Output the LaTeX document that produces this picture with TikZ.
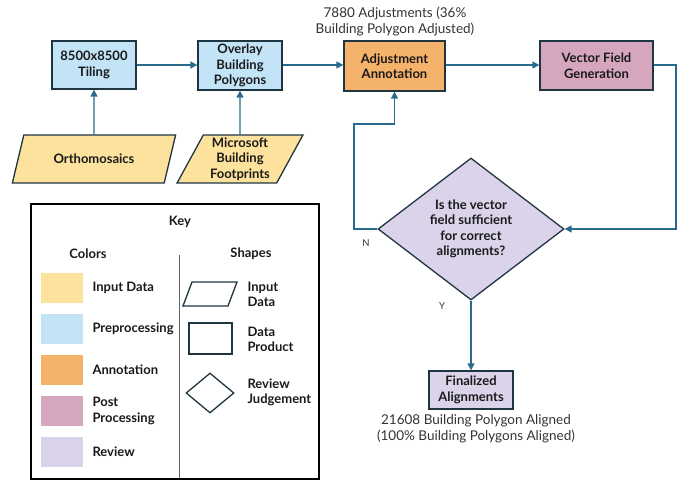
\documentclass[tikz,border=0pt]{standalone}
\usepackage{fontspec}
\setmainfont{Lato}
\usetikzlibrary{shapes.geometric,arrows.meta}
\definecolor{cyellow}{HTML}{FCE29C}
\definecolor{cblue}{HTML}{C3E4F6}
\definecolor{corange}{HTML}{F5B26B}
\definecolor{cpink}{HTML}{D6A6BE}
\definecolor{clav}{HTML}{DAD3E9}
\definecolor{cborder}{HTML}{1F3642}
\definecolor{carrow}{HTML}{2A6A8C}
\definecolor{ctext}{HTML}{1A1A1A}
\definecolor{cnote}{HTML}{333333}
\tikzset{
  box/.style={draw=cborder, line width=1.3pt, align=center, text=ctext,
    font=\bfseries\fontsize{13}{15.5}\selectfont, inner sep=0pt},
  para/.style={box, trapezium, trapezium stretches=true},
  arr/.style={draw=carrow, line width=1.3pt, -{Triangle[length=7pt,width=7pt]}},
  note/.style={align=center, text=cnote, font=\fontsize{13.5}{15.5}\selectfont},
  keytxt/.style={align=left, anchor=west, text=ctext, font=\bfseries\fontsize{13}{15.5}\selectfont},
  swatch/.style={minimum width=42pt, minimum height=30pt, inner sep=0pt},
  yn/.style={text=cnote, font=\fontsize{9.5}{11}\selectfont}
}
\begin{document}
\begin{tikzpicture}[x=1pt,y=-1pt]
\useasboundingbox (0,0) rectangle (682,481);
% main flow
\node[box, fill=cblue, minimum width=84pt, minimum height=48pt] (tile) at (94,65) {8500x8500\\Tiling};
\node[box, fill=cblue, minimum width=84pt, minimum height=49pt] (over) at (240,65.5) {Overlay\\Building\\Polygons};
\node[box, fill=corange, minimum width=101pt, minimum height=50pt] (adj) at (394.5,66) {Adjustment\\Annotation};
\node[box, fill=cpink, minimum width=113pt, minimum height=49pt] (vec) at (596.5,65.5) {Vector Field\\Generation};
\node[para, fill=cyellow, trapezium left angle=56, trapezium right angle=124, minimum width=164pt, minimum height=48pt] (ortho) at (94,159) {Orthomosaics};
\node[para, fill=cyellow, trapezium left angle=63.5, trapezium right angle=116.5, minimum width=126pt, minimum height=48pt] (ms) at (240,159) {Microsoft\\Building\\Footprints};
\node[box, diamond, fill=clav, minimum width=186pt, minimum height=142pt] (dia) at (471,229) {Is the vector\\field sufficient\\for correct\\alignments?};
\node[box, fill=clav, minimum width=84pt, minimum height=38pt] (fin) at (471,390) {Finalized\\Alignments};
\node[note] (n1) at (395,21.5) {7880 Adjustments (36\%\\Building Polygon Adjusted)};
\node[note] (n2) at (476,429) {21608 Building Polygon Aligned\\(100\% Building Polygons Aligned)};
\node[yn] (nlab) at (366,243) {N};
\node[yn] (ylab) at (442,306) {Y};
% connectors
\draw[arr] (tile.east) -- (over.west |- tile.east);
\draw[arr] (over.east |- tile.east) -- (adj.west |- tile.east);
\draw[arr] (adj.east |- tile.east) -- (vec.west |- tile.east);
\draw[arr] (ortho.north) -- (tile.south);
\draw[arr] (ms.north) -- (over.south);
\coordinate (rx) at (676,65);
\draw[arr] (vec.east |- rx) -- (rx) |- (dia.east);
\coordinate (lx) at (354,124);
\draw[arr] (dia.west) -| (lx) -| (adj.south);
\draw[arr] (dia.south) -- (fin.north);
% key
\node[draw=black, line width=2pt, minimum width=288pt, minimum height=275pt, inner sep=0pt] (key) at (175,341) {};
\node[text=ctext, font=\bfseries\fontsize{13}{15.5}\selectfont] (keyt) at (180,222) {Key};
\coordinate (dtop) at (179,255);
\coordinate (dbot) at (179,478);
\draw[draw=gray!80!black, line width=0.8pt] (dtop) -- (dbot);
\node[text=ctext, font=\bfseries\fontsize{13}{15.5}\selectfont] (colors) at (88,254) {Colors};
\node[text=ctext, font=\bfseries\fontsize{13}{15.5}\selectfont] (shapes) at (251,254) {Shapes};
\node[swatch, fill=cyellow] (s1) at (62,288) {};
\node[swatch, fill=cblue] (s2) at (62,329) {};
\node[swatch, fill=corange] (s3) at (62,370) {};
\node[swatch, fill=cpink] (s4) at (62,411) {};
\node[swatch, fill=clav] (s5) at (62,452) {};
\node[keytxt] (k1) at (89,288) {Input Data};
\node[keytxt] (k2) at (89,329) {Preprocessing};
\node[keytxt] (k3) at (89,370) {Annotation};
\node[keytxt] (k4) at (89,411) {Post\\Processing};
\node[keytxt] (k5) at (89,452) {Review};
\draw[draw=cborder, line width=1.3pt] (183,306) -- (228,306) -- (237,282) -- (192,282) -- cycle;
\node[draw=cborder, line width=1.3pt, minimum width=43pt, minimum height=31pt, inner sep=0pt] (sh2) at (210.5,338.5) {};
\node[draw=cborder, line width=1.3pt, diamond, minimum width=48pt, minimum height=40pt, inner sep=0pt] (sh3) at (210,393) {};
\node[keytxt] (l1) at (244,294.5) {Input\\Data};
\node[keytxt] (l2) at (244,339.5) {Data\\Product};
\node[keytxt] (l3) at (244,392.5) {Review\\Judgement};
\end{tikzpicture}
\end{document}
